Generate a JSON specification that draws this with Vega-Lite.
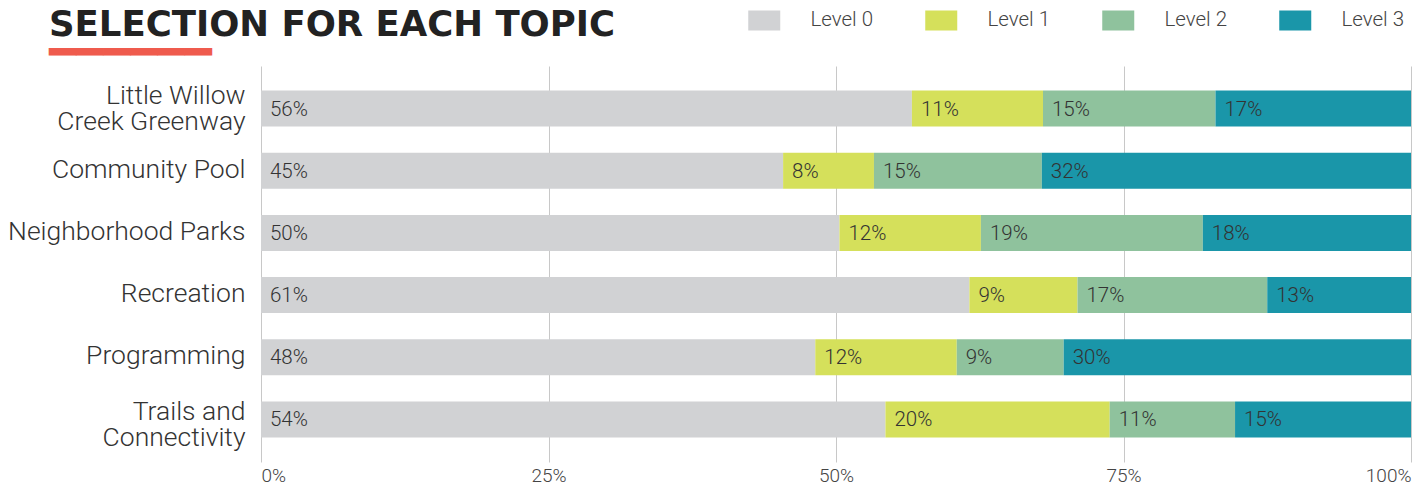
{
  "$schema": "https://vega.github.io/schema/vega-lite/v6.json",
  "autosize": "none",
  "width": 1150,
  "height": 396,
  "padding": {"left": 261, "top": 66, "right": 14, "bottom": 25},
  "background": "#ffffff",
  "title": {
    "text": "SELECTION FOR EACH TOPIC",
    "subtitle": "━━━━━━",
    "anchor": "start",
    "frame": "group",
    "dx": -212,
    "dy": 76,
    "font": "DejaVu Sans",
    "fontWeight": "bold",
    "fontSize": 35.5,
    "color": "#222222",
    "subtitleFont": "DejaVu Sans Mono",
    "subtitleFontSize": 45,
    "subtitleColor": "#EF5B4D",
    "subtitlePadding": -12,
    "offset": 10
  },
  "data": {
    "values": [
      {"topic": "Little Willow|Creek Greenway", "level": "Level 0", "order": 0, "value": 56.6, "label": "56%"},
      {"topic": "Little Willow|Creek Greenway", "level": "Level 1", "order": 1, "value": 11.4, "label": "11%"},
      {"topic": "Little Willow|Creek Greenway", "level": "Level 2", "order": 2, "value": 15.0, "label": "15%"},
      {"topic": "Little Willow|Creek Greenway", "level": "Level 3", "order": 3, "value": 17.0, "label": "17%"},
      {"topic": "Community Pool", "level": "Level 0", "order": 0, "value": 45.4, "label": "45%"},
      {"topic": "Community Pool", "level": "Level 1", "order": 1, "value": 7.9, "label": "8%"},
      {"topic": "Community Pool", "level": "Level 2", "order": 2, "value": 14.6, "label": "15%"},
      {"topic": "Community Pool", "level": "Level 3", "order": 3, "value": 32.1, "label": "32%"},
      {"topic": "Neighborhood Parks", "level": "Level 0", "order": 0, "value": 50.3, "label": "50%"},
      {"topic": "Neighborhood Parks", "level": "Level 1", "order": 1, "value": 12.3, "label": "12%"},
      {"topic": "Neighborhood Parks", "level": "Level 2", "order": 2, "value": 19.3, "label": "19%"},
      {"topic": "Neighborhood Parks", "level": "Level 3", "order": 3, "value": 18.1, "label": "18%"},
      {"topic": "Recreation", "level": "Level 0", "order": 0, "value": 61.6, "label": "61%"},
      {"topic": "Recreation", "level": "Level 1", "order": 1, "value": 9.4, "label": "9%"},
      {"topic": "Recreation", "level": "Level 2", "order": 2, "value": 16.5, "label": "17%"},
      {"topic": "Recreation", "level": "Level 3", "order": 3, "value": 12.5, "label": "13%"},
      {"topic": "Programming", "level": "Level 0", "order": 0, "value": 48.2, "label": "48%"},
      {"topic": "Programming", "level": "Level 1", "order": 1, "value": 12.3, "label": "12%"},
      {"topic": "Programming", "level": "Level 2", "order": 2, "value": 9.3, "label": "9%"},
      {"topic": "Programming", "level": "Level 3", "order": 3, "value": 30.2, "label": "30%"},
      {"topic": "Trails and|Connectivity", "level": "Level 0", "order": 0, "value": 54.3, "label": "54%"},
      {"topic": "Trails and|Connectivity", "level": "Level 1", "order": 1, "value": 19.5, "label": "20%"},
      {"topic": "Trails and|Connectivity", "level": "Level 2", "order": 2, "value": 10.9, "label": "11%"},
      {"topic": "Trails and|Connectivity", "level": "Level 3", "order": 3, "value": 15.3, "label": "15%"}
    ]
  },
  "transform": [
    {"stack": "value", "groupby": ["topic"], "sort": [{"field": "order", "order": "ascending"}], "as": ["v0", "v1"]}
  ],
  "encoding": {
    "y": {
      "field": "topic",
      "type": "nominal",
      "sort": null,
      "scale": {"paddingInner": 0.421, "paddingOuter": 0.394},
      "axis": {
        "title": null,
        "domain": false,
        "ticks": false,
        "labelExpr": "split(datum.label, '|')",
        "labelFont": "Roboto",
        "labelFontWeight": 300,
        "labelFontSize": 26.5,
        "labelLineHeight": 26,
        "labelColor": "#333333",
        "labelPadding": 16,
        "labelLimit": 400,
        "labelOffset": {
          "condition": [
            {"test": "datum.value == 'Little Willow|Creek Greenway'", "value": -13},
            {"test": "datum.value == 'Trails and|Connectivity'", "value": -7}
          ],
          "value": -1
        }
      }
    }
  },
  "layer": [
    {
      "mark": {"type": "bar"},
      "encoding": {
        "x": {
          "field": "v0",
          "type": "quantitative",
          "scale": {"domain": [0, 100], "nice": false},
          "axis": {
            "title": null,
            "values": [0, 25, 50, 75, 100],
            "labelExpr": "datum.value + '%'",
            "labelFlush": true,
            "domain": false,
            "ticks": false,
            "grid": true,
            "gridColor": "#c8c8c8",
            "gridWidth": 1,
            "labelFont": "Roboto",
            "labelFontWeight": 300,
            "labelFontSize": 19,
            "labelColor": "#444444",
            "labelPadding": 4
          }
        },
        "x2": {"field": "v1"},
        "color": {
          "field": "level",
          "type": "nominal",
          "scale": {"domain": ["Level 0", "Level 1", "Level 2", "Level 3"], "range": ["#D1D2D4", "#D5E05B", "#8FC29D", "#1A96A9"]},
          "legend": {
            "title": null,
            "orient": "none",
            "direction": "horizontal",
            "columns": 4,
            "legendX": 493,
            "legendY": -56,
            "padding": 0,
            "symbolType": "M-1.6,-1L1.6,-1L1.6,1L-1.6,1Z",
            "symbolSize": 400,
            "symbolStrokeWidth": 0,
            "symbolOpacity": 1,
            "labelOffset": 36,
            "columnPadding": 51,
            "labelFont": "Roboto",
            "labelFontWeight": 300,
            "labelFontSize": 20.5,
            "labelColor": "#444444"
          }
        }
      }
    },
    {
      "mark": {"type": "text", "align": "left", "baseline": "middle", "dx": 9, "dy": 1, "font": "Roboto", "fontWeight": 300, "fontSize": 20.5, "color": "#333333"},
      "encoding": {
        "x": {"field": "v0", "type": "quantitative"},
        "text": {"field": "label"}
      }
    }
  ],
  "config": {"view": {"stroke": null}}
}
